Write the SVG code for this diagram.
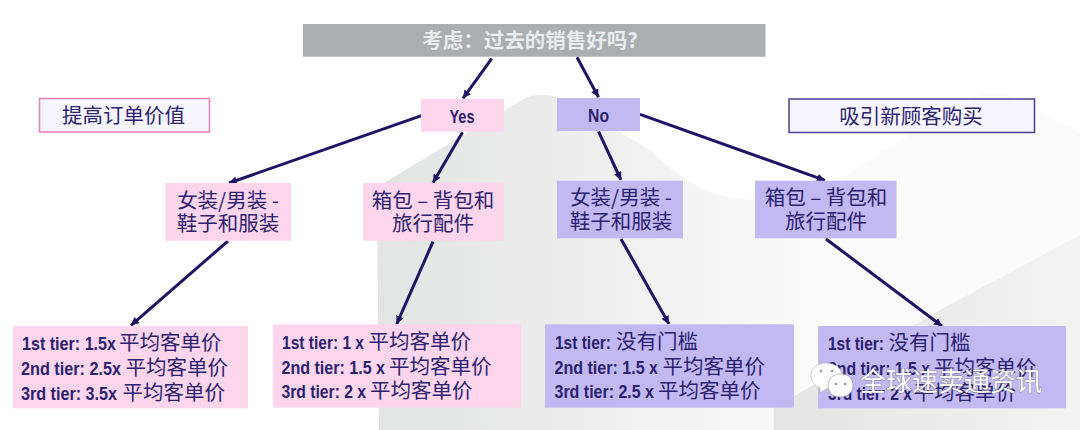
<svg xmlns="http://www.w3.org/2000/svg" width="1080" height="430" viewBox="0 0 1080 430">
<style>
.t{font-family:"Noto Sans CJK SC","Liberation Sans",sans-serif;fill:#2b2270;font-size:20.500px}
.c{text-anchor:middle}
.l{font-family:"Liberation Sans",sans-serif;font-weight:700;font-size:19px;fill:#2b2270}
.p{fill:#fdd5ec}
.v{fill:#c3b9f2}
.a{stroke:#1c1464;stroke-width:3;fill:none;marker-end:url(#ah)}
</style>
<defs>
<marker id="ah" markerUnits="userSpaceOnUse" markerWidth="10" markerHeight="10" refX="8" refY="4" orient="auto"><path d="M0 0L8 4L0 8z" fill="#1c1464"/></marker>
<linearGradient id="g1" x1="0" y1="0" x2="1" y2="0"><stop offset="0" stop-color="#e2e3e3"/><stop offset="0.3" stop-color="#eeeeee"/><stop offset="0.62" stop-color="#fbfbfb"/><stop offset="1" stop-color="#fbfbfb"/></linearGradient>
<linearGradient id="g3" x1="0" y1="0" x2="1" y2="0"><stop offset="0" stop-color="#e4e4e4"/><stop offset="1" stop-color="#f3f3f3"/></linearGradient>
</defs>
<g id="background">
<path d="M377 187L525 98Q545 90 570 102L650 150Q700 200 753 200L843 177L965 100Q990 86 1015 98L1080 133V430H379Z" fill="url(#g1)"/>
<path d="M774 408L936 312L1080 235V430H774Z" fill="url(#g3)"/>
</g>
<g id="connectors">
<path class="a" d="M491.700 58.700L463 98.300"/>
<path class="a" d="M577 57.300L598.500 97.300"/>
<path class="a" d="M421.500 115.700L229 183"/>
<path class="a" d="M462.500 132.300L433 182.700"/>
<path class="a" d="M598.500 131.300L621 180"/>
<path class="a" d="M640 114.300L825 180.300"/>
<path class="a" d="M228 241L131 325.300"/>
<path class="a" d="M433 241.700L396.700 324"/>
<path class="a" d="M621 239L669 324"/>
<path class="a" d="M826 239L942 326"/>
</g>
<g id="question"><rect x="303" y="24" width="462.500" height="32.700" fill="#a9aeb1"/><text class="c" x="530" y="47.500" style="font-family:'Noto Sans CJK SC',sans-serif;font-size:20.500px;font-weight:700;fill:#e9ebec">考虑：过去的销售好吗?</text></g>
<g id="yes"><rect class="p" x="421" y="99" width="83" height="32.700"/><text class="l c" x="462" y="122.500" textLength="25" lengthAdjust="spacingAndGlyphs">Yes</text></g>
<g id="no"><rect class="v" x="557" y="98" width="83" height="33"/><text class="l c" x="598.500" y="122" textLength="21" lengthAdjust="spacingAndGlyphs">No</text></g>
<g id="goal-pink"><rect x="39.500" y="98.500" width="170" height="33.500" fill="#f6f5fd" stroke="#e77fb8" stroke-width="1.500"/><text class="t c" x="123.500" y="123">提高订单价值</text></g>
<g id="goal-purple"><rect x="789" y="99" width="245.500" height="33.500" fill="#f6f5fd" stroke="#4b3f94" stroke-width="1.500"/><text class="t c" x="911" y="123.500">吸引新顾客购买</text></g>
<g id="cat1"><rect class="p" x="165.500" y="183" width="125.500" height="57.700"/><text class="t c" x="228" y="207.500">女装/男装 -</text><text class="t c" x="228" y="231">鞋子和服装</text></g>
<g id="cat2"><rect class="p" x="363" y="183" width="141" height="57.700"/><text class="t c" x="433" y="207.500">箱包 – 背包和</text><text class="t c" x="433" y="231">旅行配件</text></g>
<g id="cat3"><rect class="v" x="557" y="180.700" width="126" height="57.600"/><text class="t c" x="621" y="205">女装/男装 -</text><text class="t c" x="621" y="229">鞋子和服装</text></g>
<g id="cat4"><rect class="v" x="755" y="180.700" width="141.500" height="57.600"/><text class="t c" x="826" y="205">箱包 – 背包和</text><text class="t c" x="826" y="229">旅行配件</text></g>
<g id="tier1"><rect class="p" x="13" y="326" width="235" height="82.300"/>
<text class="l" x="22" y="350" textLength="94" lengthAdjust="spacingAndGlyphs">1st tier: 1.5x</text><text class="t" x="119" y="350">平均客单价</text>
<text class="l" x="21" y="375" textLength="100" lengthAdjust="spacingAndGlyphs">2nd tier: 2.5x</text><text class="t" x="125.500" y="375">平均客单价</text>
<text class="l" x="21" y="399.500" textLength="96" lengthAdjust="spacingAndGlyphs">3rd tier: 3.5x</text><text class="t" x="122.500" y="399.500">平均客单价</text></g>
<g id="tier2"><rect class="p" x="273" y="324.300" width="248" height="83.400"/>
<text class="l" x="282" y="349" textLength="82" lengthAdjust="spacingAndGlyphs">1st tier: 1 x</text><text class="t" x="368.500" y="349">平均客单价</text>
<text class="l" x="281.500" y="373.500" textLength="103.500" lengthAdjust="spacingAndGlyphs">2nd tier: 1.5 x</text><text class="t" x="389" y="373.500">平均客单价</text>
<text class="l" x="281.500" y="397.700" textLength="84.500" lengthAdjust="spacingAndGlyphs">3rd tier: 2 x</text><text class="t" x="370" y="397.700">平均客单价</text></g>
<g id="tier3"><rect class="v" x="545" y="324.300" width="249" height="83.400"/>
<text class="l" x="555" y="349" textLength="56" lengthAdjust="spacingAndGlyphs">1st tier:</text><text class="t" x="616" y="349">没有门槛</text>
<text class="l" x="554.500" y="373.500" textLength="103.500" lengthAdjust="spacingAndGlyphs">2nd tier: 1.5 x</text><text class="t" x="662.500" y="373.500">平均客单价</text>
<text class="l" x="554.500" y="397.700" textLength="99.500" lengthAdjust="spacingAndGlyphs">3rd tier: 2.5 x</text><text class="t" x="658" y="397.700">平均客单价</text></g>
<g id="tier4"><rect class="v" x="818" y="326" width="248" height="82.300"/>
<text class="l" x="828" y="350" textLength="56" lengthAdjust="spacingAndGlyphs">1st tier:</text><text class="t" x="888.500" y="350">没有门槛</text>
<text class="l" x="828" y="375" textLength="102" lengthAdjust="spacingAndGlyphs">2nd tier: 1.5 x</text><text class="t" x="934" y="375">平均客单价</text>
<text class="l" x="828" y="399.500" textLength="84" lengthAdjust="spacingAndGlyphs">3rd tier: 2 x</text><text class="t" x="913.500" y="399.500">平均客单价</text></g>
<g id="watermark">
<path d="M826 363C835 363 842 368 842 376C842 384 835 389 826 389L820 393L820 388C814 385 811 381 811 376C811 368 817 363 826 363Z" fill="#fff" stroke="#999" stroke-width="0.800" stroke-opacity="0.600"/>
<path d="M841 374C850 374 853 380 853 386C853 392 848 397 840 397C832 397 828 392 828 386C828 380 832 374 841 374Z" fill="#fff" stroke="#888" stroke-width="0.800" stroke-opacity="0.700"/>
<circle cx="821" cy="371" r="1.300" fill="#999"/><circle cx="832" cy="371" r="1.300" fill="#999"/><circle cx="836" cy="384" r="1.300" fill="#999"/><circle cx="845" cy="384" r="1.300" fill="#999"/>
<text x="860" y="391" style="font-family:'Noto Sans CJK SC',sans-serif;font-size:26px;fill:#fff;stroke:#555;stroke-width:1;stroke-opacity:.6;paint-order:stroke">全球速卖通资讯</text>
</g>
</svg>
